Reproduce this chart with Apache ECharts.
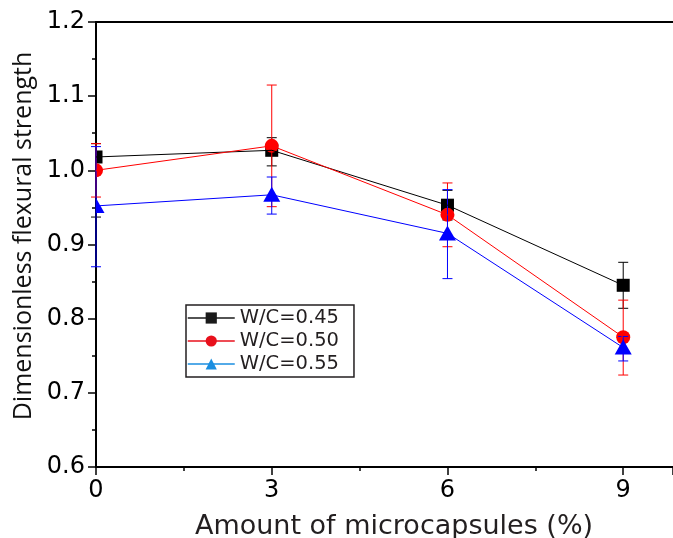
<!DOCTYPE html>
<html>
<head>
<meta charset="utf-8">
<script src="https://cdn.jsdelivr.net/npm/echarts@6/dist/echarts.min.js"></script>
<style>
  html, body { margin: 0; padding: 0; background: #fff; }
  #chart { width: 673px; height: 538px; }
</style>
</head>
<body>
<div id="chart"></div>
<script>
// amounts of microcapsules (%)
var amounts = [0, 3, 6, 9];
var xTicks = [0, 3, 6, 9];
var yTicks = [0.6, 0.7, 0.8, 0.9, 1.0, 1.1, 1.2];

// series names
var names = ['W/C=0.45', 'W/C=0.50', 'W/C=0.55'];

// mean values
var wc045 = [1.018, 1.027, 0.953, 0.845];
var wc050 = [1.000, 1.033, 0.940, 0.775];
var wc055 = [0.952, 0.967, 0.915, 0.761];

// error bar ends (low / high)
var wc045Low = [0.937, 1.006, 0.933, 0.814];
var wc045High = [1.036, 1.044, 0.973, 0.876];
var wc050Low = [0.964, 0.951, 0.897, 0.724];
var wc050High = [1.036, 1.115, 0.983, 0.825];
var wc055Low = [0.870, 0.941, 0.854, 0.743];
var wc055High = [1.032, 0.991, 0.974, 0.776];

var chart = echarts.init(document.getElementById('chart'), null, { renderer: 'canvas' });

var lineColors = ['#000000', '#ff0000', '#0000ff'];
var legendColors = ['#1a1a1a', '#e8101c', '#1a8ee0'];
var shapes = ['rect', 'circle', 'triangle'];
var means = [wc045, wc050, wc055];
var lows = [wc045Low, wc050Low, wc055Low];
var highs = [wc045High, wc050High, wc055High];

function pairs(xs, ys) {
  return xs.map(function (x, i) { return [x, ys[i]]; });
}

function errorItem(color) {
  return function (params, api) {
    var x = api.value(0);
    var lo = api.coord([x, api.value(1)]);
    var hi = api.coord([x, api.value(2)]);
    var half = 5;
    var st = { stroke: color, lineWidth: 1 };
    return {
      type: 'group',
      children: [
        { type: 'line', shape: { x1: lo[0], y1: lo[1], x2: hi[0], y2: hi[1] }, style: st },
        { type: 'line', shape: { x1: lo[0] - half, y1: lo[1], x2: lo[0] + half, y2: lo[1] }, style: st },
        { type: 'line', shape: { x1: hi[0] - half, y1: hi[1], x2: hi[0] + half, y2: hi[1] }, style: st }
      ]
    };
  };
}

function markerItem(shape, color) {
  return function (params, api) {
    var p = api.coord([api.value(0), api.value(1)]);
    var st = { fill: color };
    if (shape === 'rect') {
      return { type: 'rect', shape: { x: p[0] - 6.5, y: p[1] - 6.5, width: 13, height: 13 }, style: st };
    }
    if (shape === 'circle') {
      return { type: 'circle', shape: { cx: p[0], cy: p[1], r: 7 }, style: st };
    }
    return {
      type: 'polygon',
      shape: { points: [[p[0], p[1] - 8], [p[0] - 8.5, p[1] + 7], [p[0] + 8.5, p[1] + 7]] },
      style: st
    };
  };
}

var series = [];
names.forEach(function (name, k) {
  series.push({
    name: name,
    type: 'line',
    data: pairs(amounts, means[k]),
    symbol: k === 0 ? 'rect' : (k === 1 ? 'circle' : 'triangle'),
    symbolSize: k === 2 ? [15, 13] : 12,
    showSymbol: false,
    clip: true,
    lineStyle: { color: lineColors[k], width: 1 },
    itemStyle: { color: lineColors[k] },
    silent: true
  });
  series.push({
    name: 'err' + k,
    type: 'custom',
    clip: false,
    data: amounts.map(function (x, i) { return [x, lows[k][i], highs[k][i]]; }),
    renderItem: errorItem(lineColors[k]),
    silent: true
  });
  series.push({
    name: 'mk' + k,
    type: 'custom',
    clip: true,
    data: pairs(amounts, means[k]),
    renderItem: markerItem(shapes[k], lineColors[k]),
    silent: true
  });
});

var option = {
  animation: false,
  backgroundColor: '#ffffff',
  grid: { left: 96, top: 22, right: 0, bottom: 71, outerBoundsMode: 'none', containLabel: false },
  legend: {
    left: 186,
    top: 305,
    orient: 'vertical',
    padding: [3, 15, 3, 1],
    itemGap: 3,
    itemWidth: 47,
    itemHeight: 14,
    borderColor: '#231f20',
    borderWidth: 1.5,
    borderRadius: 0,
    textStyle: { fontFamily: 'DejaVu Sans', fontSize: 19.5, color: '#231f20' },
    data: names.map(function (n, k) {
      return {
        name: n,
        itemStyle: { color: legendColors[k] },
        lineStyle: { color: legendColors[k], width: 1.5 }
      };
    })
  },
  xAxis: [{
    type: 'value',
    min: 0,
    max: 9.85,
    interval: 3,
    name: 'Amount of microcapsules (%)',
    nameLocation: 'middle',
    nameMoveOverlap: false,
    nameGap: 46,
    nameTextStyle: { fontFamily: 'DejaVu Sans', fontSize: 27, color: '#231f20', padding: [0, 0, 0, 19] },
    axisLine: { show: true, onZero: false, lineStyle: { color: '#000', width: 2 } },
    axisTick: { show: true, length: 8, lineStyle: { color: '#000', width: 1.5 } },
    minorTick: { show: true, splitNumber: 2, length: 4, lineStyle: { color: '#000', width: 1.5 } },
    axisLabel: {
      margin: 12, showMaxLabel: false,
      fontFamily: 'DejaVu Sans', fontSize: 24, color: '#000',
      formatter: function (v) { return xTicks.indexOf(v) >= 0 ? String(v) : ''; }
    },
    splitLine: { show: false }
  }, {
    type: 'value',
    position: 'top',
    min: 0,
    max: 9.85,
    axisLine: { show: true, onZero: false, lineStyle: { color: '#000', width: 2 } },
    axisTick: { show: false },
    axisLabel: { show: false },
    splitLine: { show: false }
  }],
  yAxis: {
    type: 'value',
    min: 0.6,
    max: 1.2,
    interval: 0.1,
    name: 'Dimensionless flexural strength',
    nameLocation: 'middle',
    nameGap: 60,
    nameTextStyle: { fontFamily: 'Open Sans', fontSize: 25, color: '#111', padding: [0, 0, 0, 17] },
    axisLine: { show: true, onZero: false, lineStyle: { color: '#000', width: 2 } },
    axisTick: { show: true, length: 8, lineStyle: { color: '#000', width: 1.5 } },
    minorTick: { show: true, splitNumber: 2, length: 4, lineStyle: { color: '#000', width: 1.5 } },
    axisLabel: {
      margin: 11,
      fontFamily: 'DejaVu Sans', fontSize: 24, color: '#000',
      formatter: function (v) {
        var t = yTicks.filter(function (y) { return Math.abs(y - v) < 1e-6; });
        return t.length ? t[0].toFixed(1) : '';
      }
    },
    splitLine: { show: false }
  },
  series: series
};

chart.setOption(option);
</script>
</body>
</html>
